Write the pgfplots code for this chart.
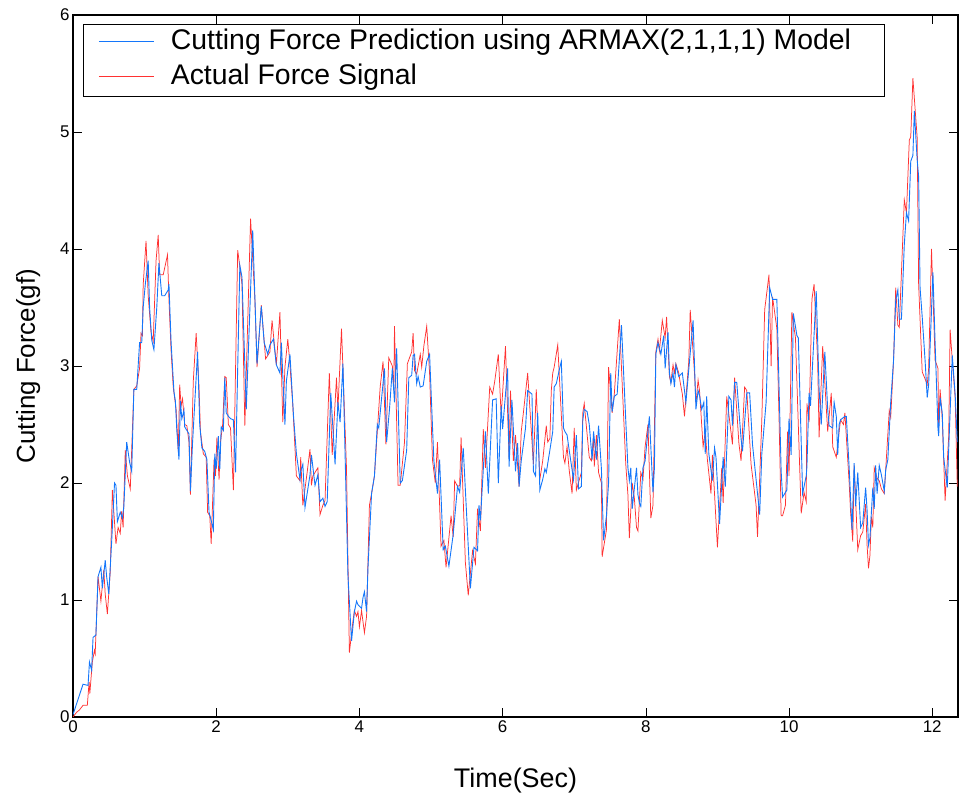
\documentclass[border=0pt]{standalone}
\usepackage{pgfplots}
\pgfplotsset{compat=1.18}
\usepackage{pgfplotstable}
\usepackage{fontspec}
\setmainfont{Liberation Sans}

\definecolor{predblue}{RGB}{20,118,250}
\definecolor{actred}{RGB}{255,50,50}

% Measured cutting force (gf) against time (s)
\pgfplotstableread{
t f
0.00 0.00
0.05 0.04
0.09 0.06
0.14 0.10
0.20 0.10
0.225 0.30
0.235 0.20
0.27 0.47
0.30 0.57
0.31 0.54
0.35 1.20
0.39 0.99
0.43 1.26
0.45 1.05
0.48 0.88
0.52 1.24
0.55 1.94
0.60 1.48
0.63 1.62
0.66 1.57
0.68 1.76
0.70 1.62
0.73 2.28
0.76 2.06
0.80 1.95
0.85 2.80
0.89 2.83
0.93 2.98
0.95 3.28
0.97 3.26
0.98 3.69
1.02 4.07
1.05 3.60
1.09 3.29
1.12 3.21
1.16 3.90
1.19 4.12
1.21 3.78
1.26 3.78
1.32 3.95
1.34 3.57
1.37 3.13
1.40 2.82
1.44 2.63
1.47 2.27
1.49 2.84
1.51 2.66
1.53 2.72
1.56 2.50
1.59 2.49
1.62 2.35
1.64 1.90
1.68 2.87
1.72 3.28
1.76 2.82
1.78 2.44
1.82 2.25
1.86 2.22
1.88 1.75
1.91 1.72
1.93 1.48
1.97 2.20
1.99 2.06
2.01 2.39
2.04 2.03
2.06 2.35
2.09 2.50
2.12 2.91
2.14 2.90
2.17 2.50
2.20 2.47
2.24 1.94
2.30 3.99
2.33 3.85
2.36 3.70
2.40 2.49
2.48 4.26
2.54 3.57
2.57 2.99
2.63 3.52
2.69 3.06
2.75 3.12
2.78 3.39
2.84 3.01
2.89 3.46
2.93 2.52
2.96 2.99
3.00 3.23
3.03 3.01
3.07 2.66
3.12 2.06
3.17 2.02
3.18 2.22
3.21 1.81
3.27 2.09
3.31 2.29
3.33 1.98
3.35 2.06
3.42 2.13
3.45 1.73
3.49 1.81
3.52 1.85
3.58 2.94
3.62 2.24
3.68 2.90
3.70 2.63
3.75 3.32
3.82 2.12
3.86 0.55
3.91 0.82
3.93 0.91
3.96 0.86
3.98 0.90
4.00 0.77
4.03 0.91
4.07 0.72
4.10 0.86
4.14 1.81
4.17 1.91
4.21 2.06
4.25 2.44
4.29 2.82
4.33 3.04
4.37 2.33
4.41 3.07
4.46 3.00
4.48 2.79
4.49 3.34
4.54 1.98
4.57 1.98
4.63 2.35
4.67 3.02
4.73 3.12
4.75 3.28
4.77 2.96
4.80 2.93
4.85 3.10
4.87 2.99
4.90 3.17
4.94 3.34
4.98 2.94
5.02 2.20
5.06 2.00
5.09 2.35
5.14 1.46
5.18 1.51
5.21 1.28
5.28 1.72
5.31 1.54
5.33 2.02
5.37 1.97
5.40 1.98
5.42 2.39
5.48 1.32
5.52 1.04
5.58 1.42
5.62 1.31
5.65 1.78
5.69 1.59
5.73 2.46
5.76 2.13
5.82 2.82
5.86 2.76
5.89 2.87
5.94 3.10
5.98 2.57
6.04 3.17
6.09 2.22
6.11 2.79
6.15 2.19
6.18 2.41
6.23 1.97
6.26 2.44
6.29 2.60
6.35 2.94
6.43 2.16
6.47 2.80
6.52 2.03
6.56 2.19
6.61 2.49
6.63 2.35
6.66 2.38
6.68 2.79
6.70 2.94
6.72 2.99
6.77 3.18
6.85 2.22
6.87 2.17
6.90 2.31
6.93 2.11
6.97 1.91
7.00 2.47
7.03 1.94
7.10 2.09
7.12 2.60
7.14 2.68
7.21 2.22
7.24 2.19
7.27 2.39
7.28 2.14
7.31 2.41
7.34 2.09
7.38 2.00
7.39 1.37
7.45 1.60
7.48 2.99
7.53 2.60
7.56 2.76
7.63 3.40
7.72 2.16
7.75 1.90
7.77 1.53
7.81 2.00
7.84 1.87
7.87 1.62
7.89 1.59
7.93 2.09
7.96 2.03
7.99 2.31
8.03 2.50
8.07 1.70
8.10 1.81
8.14 3.12
8.17 3.23
8.19 3.13
8.23 3.39
8.27 3.24
8.29 3.42
8.33 2.91
8.35 2.86
8.38 3.01
8.40 2.94
8.42 3.02
8.46 2.94
8.48 2.86
8.51 2.76
8.54 2.57
8.60 3.04
8.62 3.48
8.68 2.94
8.70 2.68
8.73 2.88
8.75 2.79
8.80 2.31
8.83 2.44
8.86 2.20
8.91 1.91
8.93 2.24
9.00 1.45
9.06 2.13
9.08 1.83
9.13 2.74
9.21 2.33
9.24 2.90
9.30 2.34
9.33 2.19
9.38 2.82
9.41 2.79
9.47 2.16
9.54 1.81
9.56 1.54
9.62 2.54
9.66 3.48
9.72 3.78
9.75 3.00
9.77 3.59
9.83 3.32
9.86 2.57
9.89 1.72
9.91 1.72
9.95 1.81
9.98 2.44
10.00 2.06
10.04 3.46
10.09 3.24
10.17 1.74
10.21 1.92
10.24 1.84
10.25 2.68
10.28 2.52
10.32 3.57
10.35 3.70
10.40 3.04
10.42 2.39
10.47 3.17
10.54 2.44
10.59 2.77
10.61 2.31
10.66 2.22
10.70 2.44
10.72 2.54
10.76 2.50
10.78 2.60
10.84 2.00
10.86 1.75
10.89 1.50
10.91 2.15
10.96 1.43
11.00 1.55
11.03 1.58
11.07 1.82
11.09 1.47
11.11 1.27
11.13 1.38
11.15 1.71
11.17 1.62
11.19 2.13
11.23 2.04
11.26 2.02
11.29 1.95
11.33 1.91
11.40 2.62
11.42 2.56
11.46 3.05
11.49 3.67
11.52 3.35
11.54 3.33
11.59 4.11
11.61 4.42
11.64 4.31
11.68 4.93
11.70 4.96
11.73 5.46
11.79 4.95
11.81 3.70
11.86 2.95
11.90 2.89
11.93 2.84
11.95 2.98
11.99 4.00
12.04 3.05
12.08 2.98
12.09 2.47
12.11 2.80
12.14 2.55
12.18 1.85
12.23 2.40
12.25 3.31
12.28 3.05
12.32 2.73
12.35 1.97
}\actual

% One-step-ahead ARMAX(2,1,1,1) prediction
\pgfplotstableread{
t f
0.00 0.02
0.07 0.15
0.14 0.28
0.21 0.27
0.23 0.47
0.26 0.40
0.28 0.68
0.32 0.70
0.35 1.20
0.39 1.28
0.41 1.10
0.45 1.34
0.47 1.20
0.50 1.05
0.54 1.50
0.58 2.00
0.60 1.98
0.62 1.67
0.66 1.75
0.69 1.70
0.71 1.80
0.75 2.35
0.79 2.18
0.82 2.10
0.85 2.80
0.89 2.80
0.93 3.20
0.96 3.20
0.98 3.50
1.01 3.70
1.05 3.90
1.07 3.50
1.10 3.22
1.13 3.14
1.17 3.50
1.20 3.88
1.24 3.60
1.28 3.60
1.33 3.65
1.34 3.70
1.37 3.20
1.41 2.78
1.43 2.70
1.45 2.45
1.48 2.20
1.50 2.70
1.52 2.55
1.55 2.62
1.56 2.48
1.59 2.45
1.62 2.42
1.64 1.93
1.67 2.35
1.74 3.12
1.77 2.50
1.80 2.30
1.84 2.27
1.87 2.20
1.90 1.75
1.93 1.68
1.96 1.60
1.98 2.25
2.00 2.12
2.03 2.40
2.05 2.12
2.07 2.48
2.10 2.45
2.12 2.90
2.14 2.60
2.17 2.57
2.20 2.55
2.24 2.54
2.27 2.09
2.33 3.86
2.36 3.76
2.42 2.63
2.51 4.16
2.57 3.02
2.63 3.51
2.67 3.20
2.72 3.10
2.75 3.18
2.80 3.23
2.84 3.01
2.89 2.94
2.91 3.20
2.96 2.50
2.98 2.87
3.03 3.10
3.08 2.57
3.12 2.25
3.17 2.03
3.18 2.10
3.21 2.16
3.24 1.79
3.31 2.07
3.33 2.24
3.38 1.98
3.42 2.07
3.45 1.84
3.49 1.87
3.52 1.80
3.55 1.84
3.60 2.77
3.66 2.16
3.70 2.69
3.73 2.52
3.77 3.02
3.84 1.21
3.89 0.65
3.93 0.90
3.96 0.99
3.98 0.96
4.03 0.93
4.05 1.02
4.07 1.07
4.10 0.90
4.12 1.28
4.17 1.91
4.21 2.06
4.25 2.50
4.27 2.47
4.35 2.98
4.38 2.35
4.42 2.63
4.46 2.98
4.49 2.69
4.52 3.15
4.57 2.00
4.60 2.02
4.66 2.28
4.69 2.90
4.73 2.92
4.75 3.09
4.77 3.10
4.80 2.85
4.82 2.91
4.85 2.82
4.89 2.83
4.94 3.04
4.98 3.10
5.04 2.19
5.09 1.91
5.12 2.20
5.17 1.43
5.20 1.46
5.25 1.29
5.31 1.56
5.37 1.97
5.40 1.92
5.45 2.30
5.55 1.10
5.60 1.45
5.65 1.42
5.67 1.81
5.69 1.68
5.76 2.44
5.80 1.91
5.86 2.71
5.91 2.72
5.94 2.00
5.98 2.66
6.00 2.46
6.07 2.98
6.09 2.14
6.13 2.71
6.18 2.10
6.21 2.34
6.23 1.97
6.26 2.19
6.32 2.47
6.35 2.79
6.41 2.76
6.43 2.10
6.46 2.06
6.49 2.60
6.52 1.94
6.56 2.03
6.59 2.12
6.61 2.09
6.66 2.28
6.70 2.44
6.72 2.82
6.75 2.85
6.80 2.99
6.82 3.04
6.85 2.47
6.87 2.44
6.90 2.41
6.93 2.28
6.99 2.03
7.03 2.41
7.06 1.95
7.10 1.97
7.12 2.54
7.14 2.63
7.18 2.61
7.21 2.50
7.25 2.20
7.27 2.44
7.31 2.20
7.34 2.49
7.38 2.12
7.41 1.51
7.45 1.72
7.48 2.00
7.51 2.94
7.53 2.61
7.56 2.74
7.60 2.76
7.66 3.35
7.69 2.94
7.75 2.13
7.77 2.02
7.79 2.13
7.81 1.78
7.87 2.13
7.89 1.90
7.91 1.83
7.93 1.80
7.96 2.13
7.99 2.19
8.05 2.57
8.10 1.92
8.12 2.13
8.14 3.10
8.17 3.20
8.21 3.10
8.25 3.26
8.27 2.98
8.31 3.29
8.33 2.94
8.35 2.85
8.38 2.94
8.40 2.82
8.42 3.01
8.46 2.91
8.51 2.94
8.56 2.69
8.66 3.39
8.70 2.63
8.73 2.79
8.75 2.75
8.78 2.63
8.81 2.69
8.83 2.25
8.85 2.74
8.88 2.25
8.93 2.02
8.96 2.30
8.98 2.22
9.03 1.65
9.08 2.22
9.11 1.97
9.16 2.74
9.19 2.71
9.21 2.49
9.24 2.86
9.27 2.86
9.33 2.38
9.35 2.27
9.41 2.77
9.45 2.77
9.49 2.33
9.59 1.73
9.62 2.25
9.68 2.69
9.73 3.67
9.77 3.57
9.79 3.57
9.83 3.57
9.89 2.10
9.91 1.88
9.97 1.94
10.00 2.55
10.03 2.24
10.06 3.45
10.11 3.26
10.13 3.24
10.19 1.91
10.24 2.06
10.25 2.14
10.28 2.77
10.30 2.66
10.38 3.64
10.42 2.80
10.45 2.50
10.50 3.12
10.54 2.63
10.56 2.49
10.61 2.47
10.63 2.69
10.66 2.57
10.68 2.24
10.70 2.50
10.72 2.54
10.78 2.57
10.80 2.57
10.84 2.13
10.88 1.60
10.91 2.17
10.93 1.80
10.96 2.09
11.00 1.62
11.03 1.66
11.07 1.96
11.09 1.77
11.11 1.47
11.13 1.53
11.17 1.96
11.19 1.78
11.21 2.15
11.23 1.91
11.26 2.15
11.29 2.07
11.33 1.93
11.35 2.11
11.38 2.20
11.42 2.69
11.46 3.05
11.49 3.56
11.52 3.65
11.54 3.40
11.57 3.40
11.61 4.04
11.64 4.31
11.67 4.24
11.70 4.75
11.73 4.80
11.75 5.18
11.79 4.76
11.81 4.62
11.83 3.67
11.86 3.42
11.90 3.05
11.93 2.73
11.95 2.84
12.01 3.80
12.04 3.20
12.08 2.47
12.09 2.40
12.11 2.73
12.14 2.60
12.16 2.22
12.21 1.96
12.23 2.29
12.28 3.09
12.32 2.76
12.35 2.35
}\predicted

\begin{document}
\begin{tikzpicture}
\begin{axis}[
  at={(0,0)}, anchor=south west,
  width=885bp, height=702bp, scale only axis,
  xmin=0, xmax=12.36, ymin=0, ymax=6,
  xtick={0,2,...,12}, ytick={0,1,...,6},
  tick align=inside, major tick length=9bp,
  tick style={black, line width=0.6bp},
  axis line style={black, line width=1.2bp},
  /pgf/number format/assume math mode=true,
  tick label style={font=\fontsize{17}{20}\selectfont},
  xlabel={Time(Sec)}, ylabel={Cutting Force(gf)},
  xlabel style={font=\fontsize{27}{32}\selectfont, at={([yshift=-70bp]axis description cs:0.5,0)}, anchor=base},
  ylabel style={font=\fontsize{26}{30}\selectfont, at={([xshift=-38bp]axis description cs:0,0.5)}, anchor=base},
  reverse legend,
  legend cell align=left,
  legend image code/.code={\draw[#1, line width=0.8bp] (0bp,0.15em) -- (55bp,0.15em); \path[draw=none, fill=none] (0bp,0.15em) -- (70bp,0.15em);},
  legend style={at={(0,1)}, anchor=north west, xshift=10bp, yshift=-9bp,
    draw=black, line width=0.9bp, inner xsep=15bp, inner ysep=3bp,
    font=\fontsize{28.5}{34}\selectfont, row sep=4bp,
    nodes={inner sep=2bp, text height=20bp, text depth=7bp}},
]
\addplot[actred, line width=0.75bp] table[x=t, y=f] {\actual};
\addlegendentry{Actual Force Signal}
\addplot[predblue, line width=0.9bp] table[x=t, y=f] {\predicted};
\addlegendentry{Cutting Force Prediction using ARMAX(2,1,1,1) Model\kern 16bp}
\end{axis}
\pgfresetboundingbox
\path (-73bp,-78bp) rectangle (886bp,717bp);
\end{tikzpicture}
\end{document}
